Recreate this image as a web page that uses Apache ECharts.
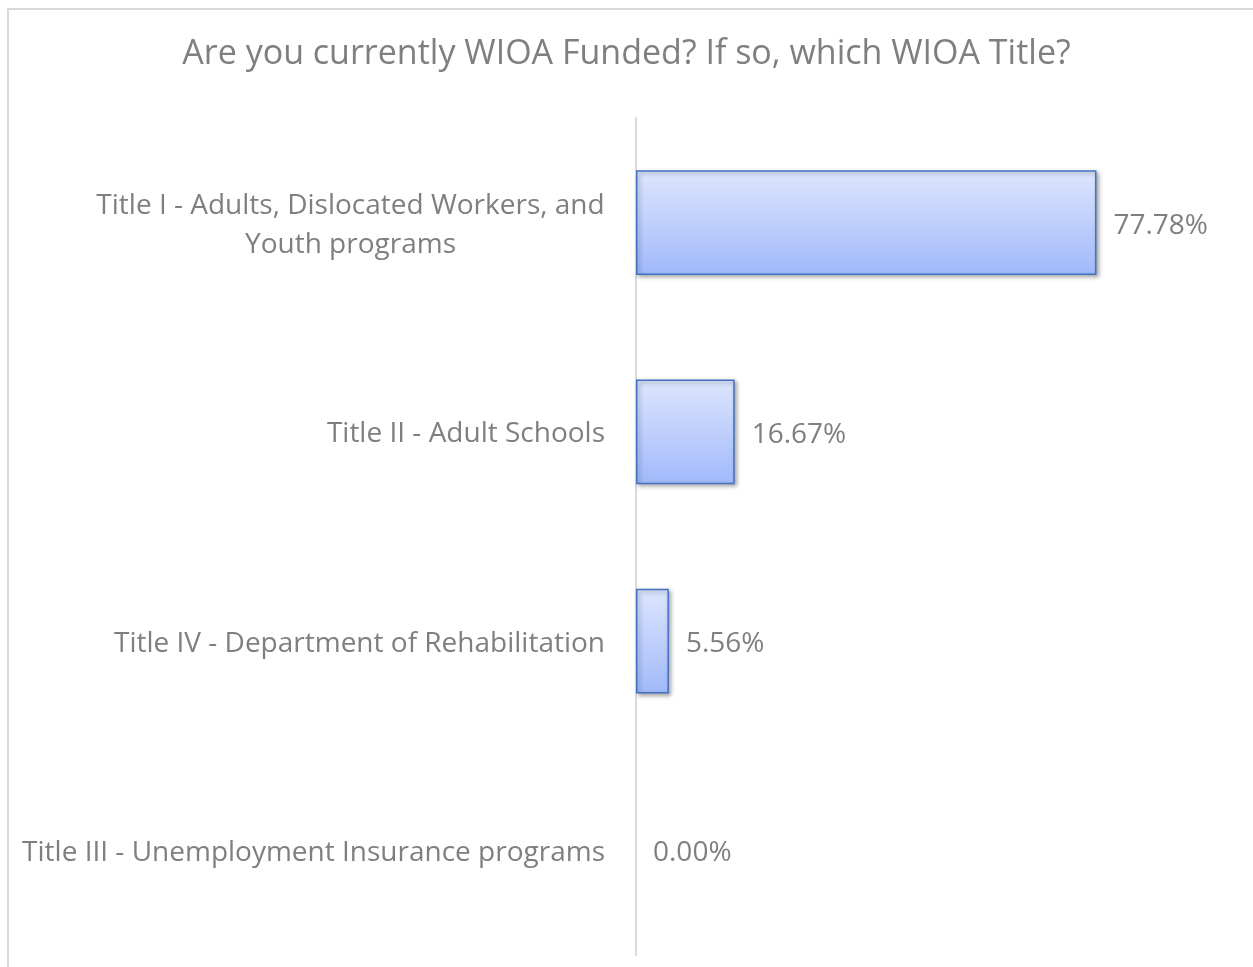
<!DOCTYPE html>
<html>
<head>
<meta charset="utf-8">
<script src="https://cdn.jsdelivr.net/npm/echarts@6/dist/echarts.min.js"></script>
<style>
    html, body { margin: 0; padding: 0; background: #fff; }
    #chart { width: 1253px; height: 967px; }
</style>
</head>
<body>
<div id="chart"></div>
<script>
const titleText = 'Are you currently WIOA Funded? If so, which WIOA Title?'
const categories = [
    'Title I - Adults, Dislocated Workers, and\nYouth programs',
    'Title II - Adult Schools',
    'Title IV - Department of Rehabilitation',
    'Title III - Unemployment Insurance programs'
]
const shares = [0.7778, 0.1667, 0.0556, 0]

const textColor = '#7f7f7f'
const fontFamily = '"Open Sans", "Noto Sans", sans-serif'
const labelSize = 28

// width of the widest line, so the wrapped label lines center under each other
function measure(text, size) {
    const ctx = document.createElement('canvas').getContext('2d')
    ctx.font = size + 'px ' + fontFamily
    return Math.ceil(ctx.measureText(text).width)
}

function formatPercent(value) {
    return (value * 100).toFixed(2) + '%'
}

const wrapWidth = Math.max.apply(null, categories[0].split('\n').map(l => measure(l, labelSize)))

const chart = echarts.init(document.getElementById('chart'))

chart.setOption({
    backgroundColor: '#fff',
    textStyle: { fontFamily: fontFamily },
    title: {
        text: titleText,
        left: 'center',
        top: 32,
        textStyle: {
            color: textColor,
            fontSize: 34,
            fontWeight: 'normal',
            fontFamily: fontFamily
        }
    },
    graphic: [{
        type: 'rect',
        shape: { x: 8, y: 9, width: 3000, height: 3000 },
        style: { fill: 'none', stroke: '#d9d9d9', lineWidth: 2 },
        silent: true
    }],
    grid: {
        left: 636,
        right: 25,
        top: 118,
        bottom: 12
    },
    xAxis: {
        type: 'value',
        min: 0,
        max: 1,
        show: false
    },
    yAxis: {
        type: 'category',
        data: categories,
        inverse: true,
        axisLine: { show: true, lineStyle: { color: '#d9d9d9', width: 2 } },
        axisTick: { show: false },
        splitLine: { show: false },
        axisLabel: {
            margin: 31,
            padding: [5, 0, 0, 0],
            color: textColor,
            fontSize: labelSize,
            fontFamily: fontFamily,
            formatter: function (value) {
                const lines = value.split('\n')
                if (lines.length === 1) {
                    return value
                }
                return lines.map(l => '{c|' + l + '}').join('\n')
            },
            rich: {
                c: {
                    width: wrapWidth,
                    align: 'center',
                    color: textColor,
                    fontSize: labelSize,
                    fontFamily: fontFamily,
                    lineHeight: 39
                }
            }
        }
    },
    series: [{
        type: 'bar',
        data: shares.map(v => v === 0
            ? { value: v, itemStyle: { borderWidth: 0, shadowBlur: 0, shadowOffsetX: 0, shadowOffsetY: 0 } }
            : v),
        barWidth: '50%',
        itemStyle: {
            color: new echarts.graphic.LinearGradient(0, 0, 0, 1, [
                { offset: 0, color: '#dde6fd' },
                { offset: 1, color: '#a1b9fb' }
            ]),
            borderColor: '#4472c4',
            borderWidth: 1.5,
            shadowColor: 'rgba(0,0,0,0.35)',
            shadowBlur: 4,
            shadowOffsetX: 2,
            shadowOffsetY: 2
        },
        label: {
            show: true,
            position: 'right',
            distance: 17,
            offset: [0, 3],
            color: textColor,
            fontSize: labelSize,
            fontFamily: fontFamily,
            formatter: params => formatPercent(params.value)
        },
        animation: false
    }],
    animation: false
})
</script>
</body>
</html>
